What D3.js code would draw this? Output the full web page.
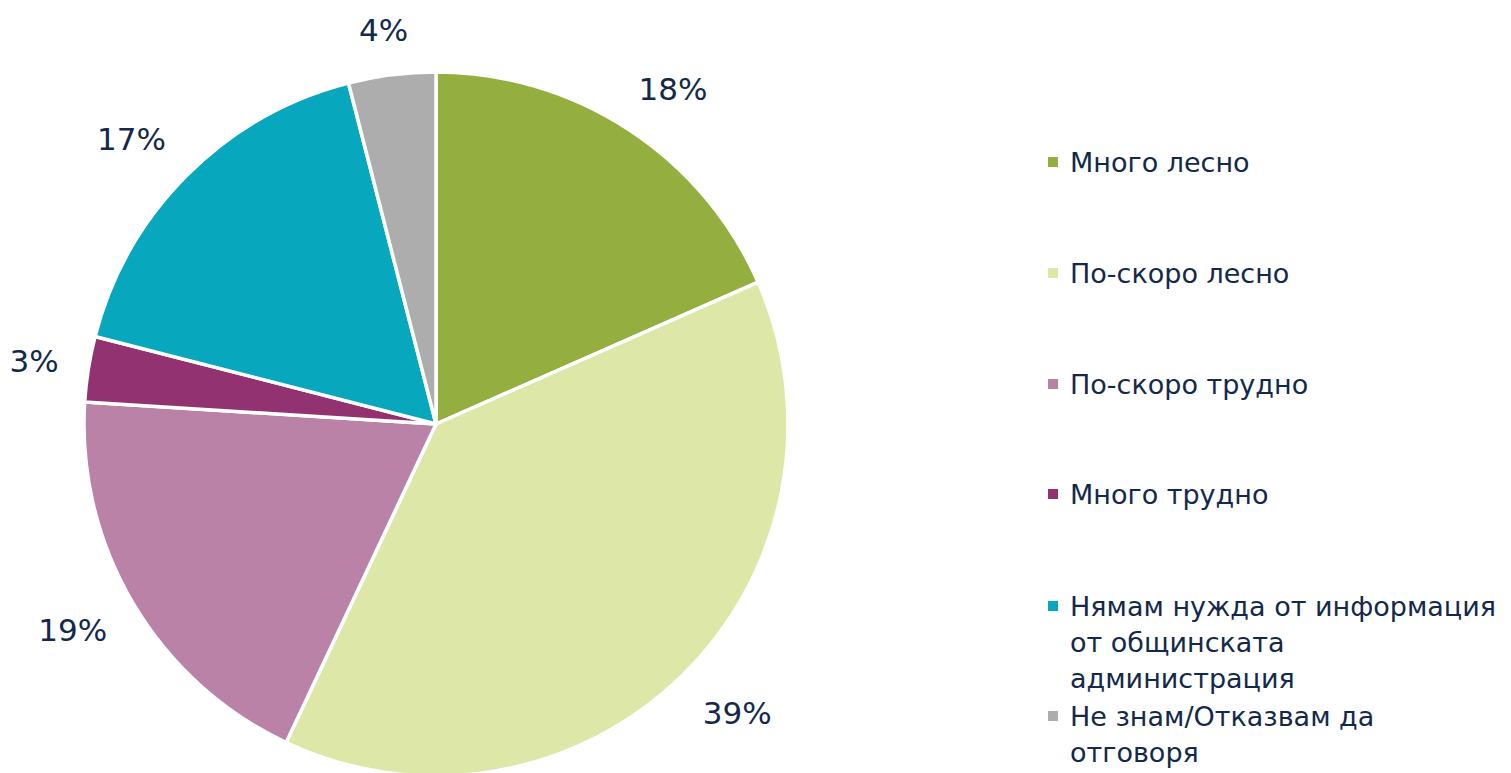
<!DOCTYPE html>
<html>
<head>
<meta charset="UTF-8" />
<title>chart</title>
<script src="https://d3js.org/d3.v7.min.js"></script>
<style>
  body { margin: 0; background: #fff; }
  text { font-family: "DejaVu Sans", sans-serif; fill: #13294b; }
</style>
</head>
<body>
<script>
var width = 1511, height = 773;

var categories = ["Много лесно", "По-скоро лесно", "По-скоро трудно", "Много трудно",
  "Нямам нужда от информация от общинската администрация", "Не знам/Отказвам да отговоря"];
var legendLines = [["Много лесно"], ["По-скоро лесно"], ["По-скоро трудно"], ["Много трудно"],
  ["Нямам нужда от информация", "от общинската", "администрация"], ["Не знам/Отказвам да", "отговоря"]];
var values = [18.4, 38.6, 19.0, 3.0, 17.0, 4.0];
var colors = ["#94ae40", "#dde7a8", "#bb82a8", "#923270", "#07a7bd", "#adadae"];

var svg = d3.select("body").append("svg").attr("width", width).attr("height", height);

var cx = 436, cy = 424, r = 352;
var pie = d3.pie().sort(null).value(function(d) { return d; });
var arcs = pie(values);
var arc = d3.arc().innerRadius(0).outerRadius(r);

var g = svg.append("g").attr("transform", "translate(" + cx + "," + cy + ")");
g.selectAll("path").data(arcs).enter().append("path")
  .attr("d", arc)
  .attr("fill", function(d, i) { return colors[i]; })
  .attr("stroke", "#fff")
  .attr("stroke-width", 3.5)
  .attr("stroke-linejoin", "round");

// outside-end labels: anchor point just past the rim, box pushed outward
var pad = 30, boxH = 30;
function clamp(v) { return Math.max(-1, Math.min(1, v)); }
g.selectAll("text.lbl").data(arcs).enter().append("text")
  .attr("class", "lbl")
  .attr("text-anchor", "middle")
  .attr("dy", "0.36em")
  .style("font-size", "31px")
  .text(function(d) { return Math.round(d.data) + "%"; })
  .attr("transform", function(d) {
    var a = (d.startAngle + d.endAngle) / 2;
    var s = Math.sin(a), c = Math.cos(a);
    var w = this.getComputedTextLength();
    var x = (r + pad) * s + clamp(1.5 * s) * w / 2;
    var y = -(r + pad) * c - clamp(1.5 * c) * boxH / 2;
    return "translate(" + x + "," + y + ")";
  });

// legend
var legendY = [162, 273, 384, 494, 606, 716];
var lg = svg.append("g");
legendLines.forEach(function(lines, i) {
  var item = lg.append("g").attr("transform", "translate(1048," + legendY[i] + ")");
  item.append("rect").attr("x", 0).attr("y", -5).attr("width", 10).attr("height", 10)
    .attr("fill", colors[i]);
  var t = item.append("text").style("font-size", "27px");
  lines.forEach(function(l, j) {
    t.append("tspan").attr("x", 22).attr("dy", j === 0 ? "0.36em" : 36).text(l);
  });
});
</script>
</body>
</html>
